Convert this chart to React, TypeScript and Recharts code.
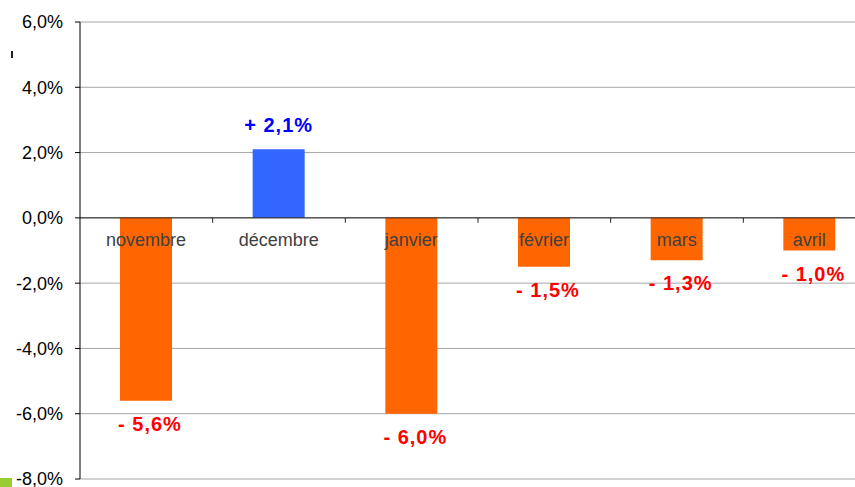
import React from 'react';
import { Bar, BarChart, CartesianGrid, Cell, LabelList, ReferenceLine, XAxis, YAxis } from 'recharts';

const months = ['novembre', 'décembre', 'janvier', 'février', 'mars', 'avril'];
const changes = [-5.6, 2.1, -6.0, -1.5, -1.3, -1.0];
const yTicks = [-8, -6, -4, -2, 0, 2, 4, 6];

const data = months.map((month, i) => ({ month, change: changes[i] }));

const FONT = '"Liberation Sans", Arial, sans-serif';
const ORANGE = '#FF6600';
const BLUE = '#3366FF';

const pct = (n: number) => `${n.toFixed(1).replace('.', ',')}%`;
const signed = (n: number) => (n < 0 ? `- ${pct(-n)}` : `+ ${pct(n)}`);

function bounds(props: any) {
  const vb = props.viewBox || props;
  const x = Number(vb.x ?? props.x);
  const y = Number(vb.y ?? props.y);
  const w = Number(vb.width ?? props.width);
  const h = Number(vb.height ?? props.height);
  return { cx: x + w / 2, top: Math.min(y, y + h), bottom: Math.max(y, y + h) };
}

function ValueLabel(props: any) {
  const v = Number(props.value);
  const { cx, top, bottom } = bounds(props);
  const neg = v < 0;
  return (
    <text
      x={cx + (neg ? 4 : 0)}
      y={neg ? bottom + 30 : top - 17}
      textAnchor="middle"
      fill={neg ? '#FF0000' : '#0000FF'}
      fontSize={20}
      fontWeight="bold"
      letterSpacing={1}
      fontFamily={FONT}
    >
      {signed(v)}
    </text>
  );
}

function MonthLabel(props: any) {
  const { cx, top, bottom } = bounds(props);
  const v = Number(data[props.index]?.change ?? 0);
  const zeroY = v < 0 ? top : bottom;
  return (
    <text x={cx} y={zeroY + 28} textAnchor="middle" fill="#404040" fontSize={18} fontFamily={FONT}>
      {props.value}
    </text>
  );
}

export default function App() {
  return (
    <div
      style={{
        position: 'absolute',
        left: 0,
        top: 0,
        width: 855,
        height: 487,
        overflow: 'hidden',
        background: '#fff',
        fontFamily: FONT,
      }}
    >
      <BarChart width={876} height={487} data={data} margin={{ top: 22, right: 0, bottom: 8, left: 0 }}>
        <CartesianGrid vertical={false} stroke="#a6a6a6" />
        <XAxis dataKey="month" hide />
        <YAxis
          domain={[-8, 6]}
          ticks={yTicks}
          interval={0}
          width={80}
          tickFormatter={pct}
          tick={{ fill: '#000', fontSize: 18, fontFamily: FONT }}
          tickSize={5}
          tickMargin={12}
          tickLine={{ stroke: '#000' }}
          axisLine={{ stroke: '#000' }}
        />
        <Bar dataKey="change" barSize={52} isAnimationActive={false}>
          {data.map((d) => (
            <Cell key={d.month} fill={d.change < 0 ? ORANGE : BLUE} />
          ))}
          <LabelList dataKey="change" content={ValueLabel} />
          <LabelList dataKey="month" content={MonthLabel} />
        </Bar>
        <ReferenceLine y={0} stroke="#222" />
        {months.slice(1).map((m) => (
          <ReferenceLine
            key={m}
            segment={[
              { x: m, y: 0 },
              { x: m, y: -0.15 },
            ]}
            position="start"
            stroke="#222"
          />
        ))}
      </BarChart>
      <div style={{ position: 'absolute', left: 0, top: 478, width: 12, height: 9, background: '#99CC33' }} />
      <div style={{ position: 'absolute', left: 11, top: 51, width: 2, height: 7, background: '#222' }} />
    </div>
  );
}
